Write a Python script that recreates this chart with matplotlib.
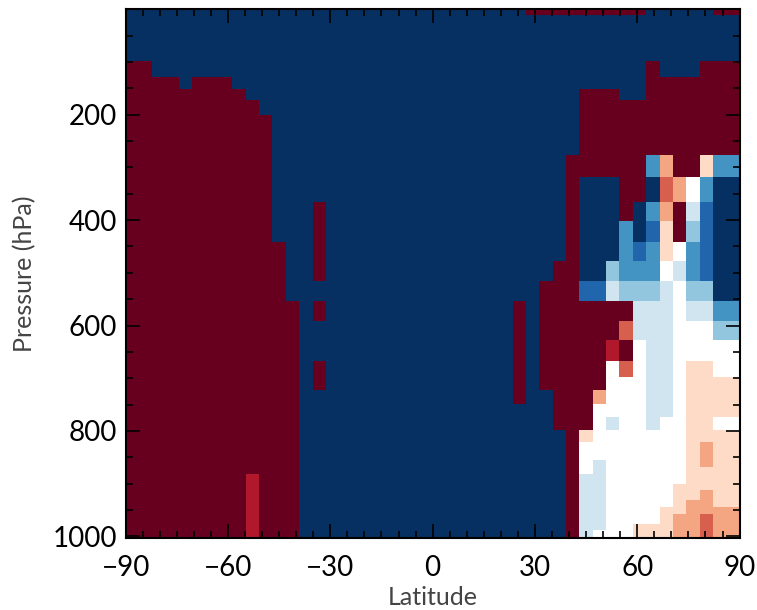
import numpy as np
import matplotlib
matplotlib.use("Agg")
import matplotlib.pyplot as plt
from matplotlib.colors import ListedColormap, BoundaryNorm
from matplotlib.ticker import MultipleLocator

# layer boundaries in hPa, top of the atmosphere first
pressure_edges = [0, 11, 98, 128, 151, 172, 200, 276, 319, 365, 401, 441, 477,
                  515, 553, 591, 627, 667, 697, 722, 749, 774, 798, 821, 855,
                  868, 882, 900, 912, 931, 945, 958, 976, 988, 1003]
n_lat = 46  # equal latitude bands, south to north

# colour class per cell, run-length coded, one entry per layer (top first)
# N B M L V W P S R D K : dark blue ... white ... dark red
rows = [
    "30N 9K 5N 2K",
    "46N",
    "2K 37N K 3N 3K",
    "4K N 3K 31N 7K",
    "9K 25N 3K 2N 7K",
    "10K 24N 12K",
    "11K 23N 12K",
    "11K 22N 6K M S 2K P 2M",
    "11K 22N K 3N 2K N R S W M 2N",
    "11K 3N K 18N K 3N K N M S K V B 2N",
    "11K 3N K 18N K 3N M N B P K L B 2N",
    "12K 2N K 18N K 3N M B M P W M B 2N",
    "12K 2N K 17N 2K 2N L 3M W V M B 2N",
    "12K 19N 3K 2B V 3L V W 2L 2N",
    "13K N K 14N K N 7K 3V W 2V 2M",
    "13K 16N K N 6K R 3V 3W 2L",
    "13K 16N K N 5K D K W 2V 5W",
    "13K N K 14N K N 5K W R W 2V W 2P 2W",
    "13K N K 14N K N 5K 3W 2V W 4P",
    "13K 16N K 2N 3K S 3W 2V W 4P",
    "13K 19N 3K 4W 2V W 4P",
    "13K 19N 3K W V 2W V 2W 2P 2W",
    "13K 20N K P 7W 4P",
    "13K 20N K 8W P S 2P",
    "13K 20N K W V 6W P S 2P",
    "13K 20N K W V 6W 4P",
    "9K D 3K 20N K 2V 6W 4P",
    "9K D 3K 20N K 2V 5W 5P",
    "9K D 3K 20N K 2V 5W 2P S 2P",
    "9K D 3K 20N K 2V 5W P 2S 2P",
    "9K D 3K 20N K 2V 4W 2P 4S",
    "9K D 3K 20N K 2V 4W P 2S R 2S",
    "9K D 3K 20N K 2V 2W 3P 2S R 2S",
    "9K D 3K 20N K V 3W 3P 2S R 2S",
]

classes = "NBMLVWPSRDK"
palette = ["#053061", "#2166ac", "#4393c3", "#92c5de", "#d1e5f0", "#ffffff",
           "#fddbc7", "#f4a582", "#d6604d", "#b2182b", "#67001f"]

lat_ticks = [-90, -60, -30, 0, 30, 60, 90]
p_ticks = [200, 400, 600, 800, 1000]


def decode(row):
    out = []
    for tok in row.split():
        n = int(tok[:-1]) if len(tok) > 1 else 1
        out += [classes.index(tok[-1])] * n
    assert len(out) == n_lat, row
    return out


def main():
    plt.rcParams["font.family"] = ["Lato", "DejaVu Sans"]
    grid = np.array([decode(r) for r in rows])
    lat_edges = np.linspace(-90, 90, n_lat + 1)

    cmap = ListedColormap(palette)
    norm = BoundaryNorm(np.arange(len(palette) + 1) - 0.5, cmap.N)

    fig = plt.figure(figsize=(7.57, 6.10), dpi=100)
    ax = fig.add_axes([0.166, 0.118, 0.811, 0.867])
    ax.pcolormesh(lat_edges, pressure_edges, grid, cmap=cmap, norm=norm, shading="flat")

    ax.set_xlim(-90, 90)
    ax.set_ylim(pressure_edges[-1], 0)
    ax.set_xticks(lat_ticks)
    ax.set_yticks(p_ticks)
    ax.xaxis.set_minor_locator(MultipleLocator(5))
    ax.yaxis.set_minor_locator(MultipleLocator(50))
    ax.tick_params(which="both", direction="in", top=True, right=True,
                   width=1.2, labelsize=20, colors="black")
    ax.tick_params(which="major", length=10)
    ax.tick_params(which="minor", length=5)
    ax.tick_params(axis="x", which="major", pad=12)
    ax.tick_params(axis="y", which="major", pad=6)
    for sp in ax.spines.values():
        sp.set_linewidth(1.5)

    ax.set_xlabel("Latitude", fontsize=18, color="#444444", labelpad=4)
    ax.set_ylabel("Pressure (hPa)", fontsize=18, color="#444444", labelpad=12)

    fig.savefig("out.png", dpi=100)
    plt.close(fig)


if __name__ == "__main__":
    main()
